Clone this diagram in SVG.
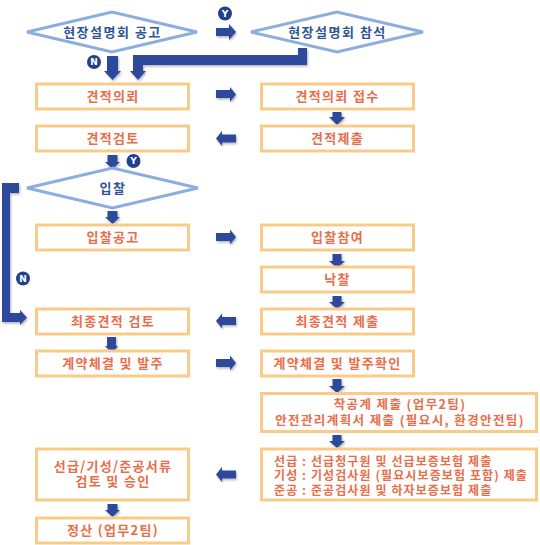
<svg xmlns="http://www.w3.org/2000/svg" width="540" height="545" viewBox="0 0 540 545">
<defs>
<filter id="sh" x="-30%" y="-30%" width="160%" height="160%">
<feDropShadow dx="1" dy="1.5" stdDeviation="0.8" flood-color="#000" flood-opacity="0.3"/>
</filter>
<style>
.box{fill:#fff;stroke:#F9CB88;stroke-width:3}
.dia{fill:#fff;stroke:#8CAEDF;stroke-width:3}
.bt{font-family:"Noto Sans CJK KR","DejaVu Sans",sans-serif;font-size:13px;font-weight:bold;fill:#E96D49;text-anchor:middle;letter-spacing:1.3px}
.bt2{font-family:"Noto Sans CJK KR","DejaVu Sans",sans-serif;font-size:12.5px;font-weight:bold;fill:#E96D49;text-anchor:middle;letter-spacing:1.4px}
.lt{font-family:"Noto Sans CJK KR","DejaVu Sans",sans-serif;font-size:12px;font-weight:bold;fill:#E96D49;letter-spacing:1.1px}
.dt{font-family:"Noto Sans CJK KR","DejaVu Sans",sans-serif;font-size:13px;font-weight:bold;fill:#2E5597;text-anchor:middle;letter-spacing:1.5px}
.arr{fill:#2D4A9C;filter:url(#sh)}
.yn{fill:#22408C}
.ynt{font-family:"DejaVu Sans",sans-serif;font-size:9px;font-weight:bold;fill:#fff;text-anchor:middle}
</style>
</defs>

<g id="connectors">
<polygon class="arr" points="216,28 229,28 229,24 236,32 229,40 229,36 216,36"/>
<polygon class="arr" points="107,56 118,56 118,71 121,71 112.5,80 104,71 107,71"/>
<polygon class="arr" points="298,48 307,48 307,65 143,65 143,71 146,71 138,80 130,71 133,71 133,55 298,55"/>
<polygon class="arr" points="216,90 230,90 230,87 236,94.5 230,102 230,98 216,98"/>
<polygon class="arr" points="332.5,112 341.5,112 341.5,117 345,117 337,125 329,117 332.5,117"/>
<polygon class="arr" points="236,134.5 222,134.5 222,131 216,138.5 222,146 222,142.5 236,142.5"/>
<polygon class="arr" points="107.5,155 117.5,155 117.5,162 120,162 112.5,169 105,162 107.5,162"/>
<polygon class="arr" points="107.5,211 117.5,211 117.5,217 120,217 112.5,224 105,217 107.5,217"/>
<polygon class="arr" points="2,183 19,183 19,193 10,193 10,313 20,313 20,310 27,317.5 20,325 20,322 2,322"/>
<polygon class="arr" points="216,233 230,233 230,229.5 236,237 230,244.5 230,241 216,241"/>
<polygon class="arr" points="332.5,254 341.5,254 341.5,261 345,261 337,268 329,261 332.5,261"/>
<polygon class="arr" points="332.5,296 341.5,296 341.5,302 345,302 337,309 329,302 332.5,302"/>
<polygon class="arr" points="236,317 222,317 222,313.5 216,321 222,328.5 222,325 236,325"/>
<polygon class="arr" points="107,337 116,337 116,346 118,346 112,353 105,346 107,346"/>
<polygon class="arr" points="216,359 230,359 230,355.5 236,363 230,370.5 230,367 216,367"/>
<polygon class="arr" points="332.5,379 341.5,379 341.5,386 345,386 337,393 329,386 332.5,386"/>
<polygon class="arr" points="332.5,435 341.5,435 341.5,441 345,441 337,448 329,441 332.5,441"/>
<polygon class="arr" points="236,470.5 222,470.5 222,467 216,474.5 222,482 222,478.5 236,478.5"/>
<polygon class="arr" points="107.5,504 117.5,504 117.5,510 120,510 112.5,517 105,510 107.5,510"/>
<circle class="yn" cx="225" cy="13.5" r="7"/><text class="ynt" x="225" y="16.8">Y</text>
<circle class="yn" cx="94" cy="62" r="7"/><text class="ynt" x="94" y="65.3">N</text>
<circle class="yn" cx="133.5" cy="161" r="7"/><text class="ynt" x="133.5" y="164.3">Y</text>
<circle class="yn" cx="23" cy="278.5" r="7"/><text class="ynt" x="23" y="281.8">N</text>
</g>

<g id="d1"><polygon class="dia" points="27,32 112,12 197,32 112,52"/><text class="dt" x="112.5" y="36.5">현장설명회 공고</text></g>
<g id="d2"><polygon class="dia" points="251,32 337,12 423,32 337,52"/><text class="dt" x="337.5" y="36.5">현장설명회 참석</text></g>

<g id="n1"><rect class="box" x="36.5" y="84" width="152" height="25"/><text class="bt" x="113" y="101">견적의뢰</text></g>
<g id="n2"><rect class="box" x="261.5" y="84" width="152" height="25"/><text class="bt" x="337.5" y="101">견적의뢰 접수</text></g>
<g id="n3"><rect class="box" x="36.5" y="126" width="152" height="25"/><text class="bt" x="113" y="143">견적검토</text></g>
<g id="n4"><rect class="box" x="261.5" y="126" width="152" height="25"/><text class="bt" x="337.5" y="143">견적제출</text></g>

<g id="d3"><polygon class="dia" points="27,188 112.5,168 198,188 112.5,208"/><text class="dt" x="113" y="192.5">입찰</text></g>

<g id="n5"><rect class="box" x="36.5" y="225" width="152" height="25"/><text class="bt" x="113" y="242">입찰공고</text></g>
<g id="n6"><rect class="box" x="261.5" y="225" width="152" height="25"/><text class="bt" x="337.5" y="242">입찰참여</text></g>
<g id="n7"><rect class="box" x="261.5" y="267" width="152" height="25"/><text class="bt" x="337.5" y="284">낙찰</text></g>
<g id="n8"><rect class="box" x="36.5" y="309" width="152" height="25"/><text class="bt" x="113" y="326">최종견적 검토</text></g>
<g id="n9"><rect class="box" x="261.5" y="309" width="152" height="25"/><text class="bt" x="337.5" y="326">최종견적 제출</text></g>
<g id="n10"><rect class="box" x="36.5" y="351" width="152" height="25"/><text class="bt" x="113" y="368">계약체결 및 발주</text></g>
<g id="n11"><rect class="box" x="261.5" y="351" width="152" height="25"/><text class="bt" x="337.5" y="368">계약체결 및 발주확인</text></g>

<g id="n12"><rect class="box" x="261.5" y="393.5" width="275" height="38"/>
<text class="bt2" x="400" y="409">착공계 제출 (업무2팀)</text>
<text class="bt2" x="400" y="425">안전관리계획서 제출 (필요시, 환경안전팀)</text></g>

<g id="n13"><rect class="box" x="261.5" y="449" width="275" height="51"/>
<text class="lt" x="274" y="465.5">선급 : 선급청구원 및 선급보증보험 제출</text>
<text class="lt" x="274" y="480">기성 : 기성검사원 (필요시보증보험 포함) 제출</text>
<text class="lt" x="274" y="494.5">준공 : 준공검사원 및 하자보증보험 제출</text></g>

<g id="n14"><rect class="box" x="36.5" y="449" width="152" height="51"/>
<text class="bt" x="113" y="470.5">선급/기성/준공서류</text>
<text class="bt" x="113" y="486">검토 및 승인</text></g>

<g id="n15"><rect class="box" x="36.5" y="518" width="152" height="25"/><text class="bt" x="113" y="535">정산 (업무2팀)</text></g>
</svg>
